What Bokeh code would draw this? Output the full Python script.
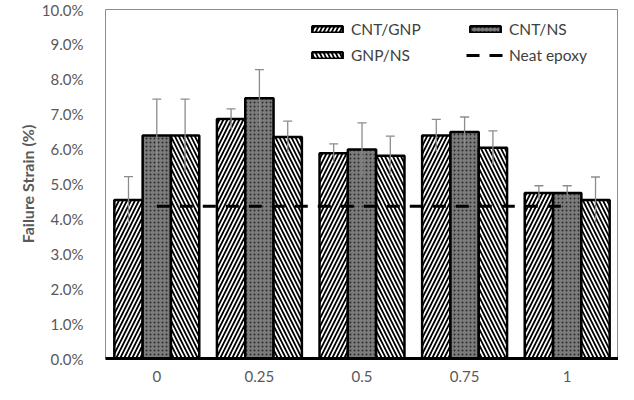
from bokeh.plotting import figure
from bokeh.models import (ColumnDataSource, FactorRange, Whisker, TeeHead, Legend, LegendItem,
                          PrintfTickFormatter, FixedTicker)
from bokeh.transform import dodge
from bokeh.embed import file_html
from bokeh.resources import INLINE

# ---- data ----
ratios = ["0", "0.25", "0.5", "0.75", "1"]
cnt_gnp = [4.54, 6.86, 5.88, 6.39, 4.74]
cnt_gnp_err = [0.67, 0.29, 0.27, 0.46, 0.21]
cnt_ns = [6.39, 7.46, 5.99, 6.49, 4.74]
cnt_ns_err = [1.04, 0.82, 0.76, 0.43, 0.21]
gnp_ns = [6.39, 6.35, 5.81, 6.04, 4.54]
gnp_ns_err = [1.04, 0.45, 0.56, 0.48, 0.66]
neat_epoxy = [4.36, 4.36, 4.36, 4.36, 4.36]
y_ticks = [0, 1, 2, 3, 4, 5, 6, 7, 8, 9, 10]

FONT = "Lato"
GREY = "#595959"

def up(v, e):
    return [a + b for a, b in zip(v, e)]

def lo(v, e):
    return [a - b for a, b in zip(v, e)]

src = ColumnDataSource(data=dict(
    x=ratios,
    cnt_gnp=cnt_gnp, cnt_gnp_u=up(cnt_gnp, cnt_gnp_err), cnt_gnp_l=lo(cnt_gnp, cnt_gnp_err),
    cnt_ns=cnt_ns, cnt_ns_u=up(cnt_ns, cnt_ns_err), cnt_ns_l=lo(cnt_ns, cnt_ns_err),
    gnp_ns=gnp_ns, gnp_ns_u=up(gnp_ns, gnp_ns_err), gnp_ns_l=lo(gnp_ns, gnp_ns_err),
    neat=neat_epoxy,
))

W, H = 618, 384
BL, BT, BB = 105, 9, 22
frame_h = H - BT - BB

p = figure(width=W, height=H, x_range=FactorRange(*ratios, range_padding=0),
           y_range=(0, 10), output_backend="svg", toolbar_location=None,
           min_border_left=BL, min_border_right=0, min_border_top=BT, min_border_bottom=BB)
p.xgrid.visible = False
p.ygrid.visible = False
p.outline_line_color = "#8c8c8c"
p.outline_line_width = 1
p.background_fill_color = "white"
p.border_fill_color = "white"

off = 0.276
bw = 0.276
r1 = p.vbar(x=dodge("x", -off, range=p.x_range), top="cnt_gnp", width=bw, source=src,
            fill_color="white", line_color="black", line_width=2.5,
            hatch_pattern="/", hatch_color="black", hatch_scale=8, hatch_weight=1.8)
r2 = p.vbar(x=dodge("x", 0, range=p.x_range), top="cnt_ns", width=bw, source=src,
            fill_color="#7c7c7c", line_color="black", line_width=2.5,
            hatch_pattern=".", hatch_color="#2a2a2a", hatch_scale=4, hatch_weight=1)
r3 = p.vbar(x=dodge("x", off, range=p.x_range), top="gnp_ns", width=bw, source=src,
            fill_color="white", line_color="black", line_width=2.5,
            hatch_pattern="\\", hatch_color="black", hatch_scale=8, hatch_weight=1.8)

for d, key in ((-off, "cnt_gnp"), (0, "cnt_ns"), (off, "gnp_ns")):
    w = Whisker(base=dodge("x", d, range=p.x_range), upper=key + "_u", lower=key + "_l",
                source=src, line_color="#8c8c8c", line_width=1.3, level="overlay",
                upper_head=TeeHead(size=9, line_color="#8c8c8c", line_width=1.3),
                lower_head=None)
    p.add_layout(w)

r4 = p.line(x="x", y="neat", source=src, line_color="black", line_width=3,
            line_dash="13 10")

# axes
p.xaxis.axis_line_color = "black"
p.xaxis.axis_line_width = 3
p.xaxis.major_tick_line_color = None
p.xaxis.minor_tick_line_color = None
p.xaxis.major_label_text_font = FONT
p.xaxis.major_label_text_font_size = "15px"
p.xaxis.major_label_text_color = GREY
p.xaxis.major_label_standoff = 6

p.yaxis.axis_line_color = None
p.yaxis.major_tick_line_color = None
p.yaxis.minor_tick_line_color = None
p.yaxis.ticker = FixedTicker(ticks=y_ticks)
p.yaxis.formatter = PrintfTickFormatter(format="%.1f%%")
p.yaxis.major_label_text_font = FONT
p.yaxis.major_label_text_font_size = "15px"
p.yaxis.major_label_text_color = GREY
p.yaxis.major_label_standoff = 16
p.yaxis.axis_label = "Failure Strain (%)"
p.yaxis.axis_label_text_font = FONT
p.yaxis.axis_label_text_font_style = "bold"
p.yaxis.axis_label_text_font_size = "16px"
p.yaxis.axis_label_text_color = GREY
p.yaxis.axis_label_standoff = 2

leg_h = 46
leg_top = 14
leg_kw = dict(background_fill_alpha=0, border_line_color=None, padding=0, margin=0,
              spacing=6, glyph_width=38, glyph_height=8, label_height=20,
              label_standoff=5, label_text_font=FONT, label_text_font_size="15.5px",
              label_text_color="#404040")
leg1 = Legend(items=[LegendItem(label="CNT/GNP", renderers=[r1]),
                     LegendItem(label="GNP/NS", renderers=[r3])],
              location=(203, frame_h - leg_top - leg_h), **leg_kw)
leg2 = Legend(items=[LegendItem(label="CNT/NS", renderers=[r2]),
                     LegendItem(label="Neat epoxy", renderers=[r4])],
              location=(361, frame_h - leg_top - leg_h), **leg_kw)
p.add_layout(leg1)
p.add_layout(leg2)

open("out.html", "w").write(file_html(p, INLINE))
